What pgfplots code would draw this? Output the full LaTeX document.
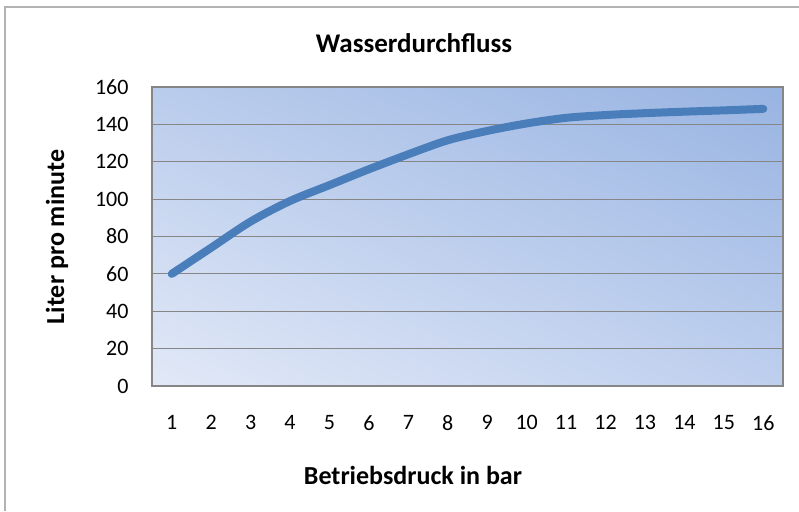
\documentclass[border=0pt]{standalone}
\usepackage{pgfplots}
\pgfplotsset{compat=1.18}
\usetikzlibrary{shadings}
\usepackage{fontspec}
\setmainfont{Carlito}
\definecolor{lineblue}{RGB}{74,126,187}
\definecolor{gridgray}{RGB}{134,134,134}
\begin{document}
\begin{tikzpicture}[x=1pt,y=1pt]
\path[use as bounding box] (0pt,0pt) rectangle (799pt,-511pt);
\draw[gray!60, line width=1.2pt] (5pt,-511pt) -- (5pt,-7pt) -- (799pt,-7pt);
\begin{axis}[
  at={(152pt,-386pt)}, anchor=south west,
  scale only axis, width=631pt, height=299pt,
  xmin=0.5, xmax=16.5, ymin=0, ymax=160,
  xtick={1,...,16}, ytick={0,20,...,160},
  ymajorgrids, major grid style={gridgray, line width=1.2pt},
  axis line style={gridgray, line width=1.2pt},
  tick style={draw=none},
  ticklabel style={font=\fontsize{22}{26}\selectfont, text=black},
  xticklabel style={yshift=-26pt},
  yticklabel style={xshift=-20pt},
  /pgf/number format/assume math mode=true,
  axis background/.style={shade,
    lower left={rgb,255:red,226;green,233;blue,247},
    upper right={rgb,255:red,152;green,180;blue,226},
    upper left={rgb,255:red,186;green,204;blue,236},
    lower right={rgb,255:red,190;green,207;blue,238}},
  clip=false,
]
\addplot[lineblue, line width=8pt, line cap=round, line join=round, smooth, tension=0.5] coordinates {
(1,60) (2,74) (3,88) (4,99) (5,107.5) (6,116) (7,124) (8,131.5) (9,136.5) (10,140.5) (11,143.5) (12,145) (13,146) (14,146.8) (15,147.5) (16,148.3)
};
\end{axis}
\node[font=\bfseries\fontsize{27}{32}\selectfont] at (414pt,-43pt) {Wasserdurchfluss};
\node[font=\bfseries\fontsize{26}{31}\selectfont] at (413pt,-475pt) {Betriebsdruck in bar};
\node[font=\bfseries\fontsize{26}{31}\selectfont, rotate=90] at (57pt,-237pt) {Liter pro minute};
\end{tikzpicture}
\end{document}
